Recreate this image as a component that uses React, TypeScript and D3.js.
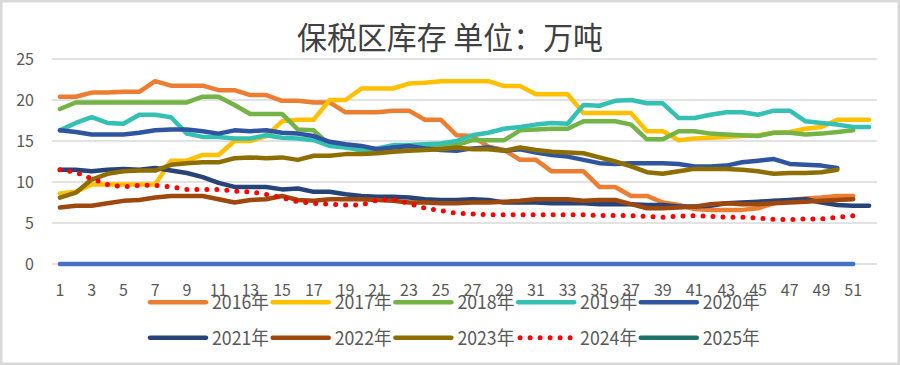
import React from "react";
import * as d3 from "d3";

const weeks = Array.from({ length: 52 }, (_, i) => String(i + 1));
const xTickLabels = ["1","3","5","7","9","11","13","15","17","19","21","23","25","27","29","31","33","35","37","39","41","43","45","47","49","51"];
const yTicks = [0, 5, 10, 15, 20, 25];

const d2016 = [20.4,20.4,20.9,20.9,21.0,21.0,22.3,21.75,21.75,21.75,21.2,21.2,20.6,20.6,19.9,19.9,19.7,19.7,18.5,18.5,18.5,18.7,18.7,17.6,17.6,15.7,15.6,14.3,13.9,12.7,12.7,11.3,11.3,11.3,9.4,9.4,8.3,8.3,7.5,7.2,6.7,6.6,6.6,6.6,6.8,7.4,7.8,8.0,8.1,8.3,8.3];
const d2017 = [8.6,8.8,9.7,9.7,9.7,9.7,9.7,12.6,12.6,13.3,13.3,15.0,15.0,15.6,17.4,17.6,17.6,20.0,20.0,21.4,21.4,21.4,22.0,22.1,22.3,22.3,22.3,22.3,21.7,21.7,20.7,20.7,20.7,18.4,18.4,18.4,18.4,16.2,16.2,15.1,15.3,15.4,15.5,15.6,15.7,16.0,16.1,16.5,16.7,17.6,17.6,17.6];
const d2018 = [18.9,19.7,19.7,19.7,19.7,19.7,19.7,19.7,19.7,20.4,20.4,19.4,18.3,18.3,18.3,16.4,16.3,14.5,14.3,13.9,13.9,14.1,14.2,14.3,14.4,14.5,15.1,15.1,15.1,16.3,16.4,16.5,16.5,17.4,17.4,17.4,17.0,15.2,15.2,16.2,16.2,15.9,15.8,15.7,15.6,16.0,16.0,15.8,15.9,16.1,16.3];
const d2019 = [16.3,17.2,17.9,17.2,17.1,18.2,18.2,17.9,15.9,15.5,15.5,15.3,15.3,15.7,15.4,15.3,15.1,14.4,14.2,13.9,14.1,14.5,14.5,14.6,14.7,15.0,15.7,16.0,16.5,16.7,17.0,17.2,17.1,19.4,19.3,19.9,20.0,19.6,19.6,17.8,17.8,18.2,18.5,18.5,18.2,18.7,18.7,17.4,17.2,17.0,16.7,16.7];
const d2020 = [16.3,16.1,15.8,15.8,15.8,16.0,16.3,16.4,16.4,16.2,15.9,16.3,16.2,16.3,16.0,15.9,15.6,14.9,14.6,14.4,14.0,14.2,14.4,14.1,13.9,13.8,14.1,14.2,13.8,14.0,13.6,13.3,13.1,12.7,12.3,12.2,12.3,12.3,12.3,12.2,11.9,11.9,12.0,12.4,12.6,12.8,12.2,12.1,12.0,11.7];
const d2021 = [11.5,11.5,11.3,11.5,11.6,11.5,11.7,11.4,11.1,10.6,9.9,9.4,9.4,9.4,9.1,9.2,8.8,8.8,8.5,8.3,8.2,8.2,8.1,7.9,7.8,7.8,7.9,7.8,7.5,7.5,7.5,7.4,7.4,7.4,7.3,7.3,7.3,7.2,7.2,7.0,7.0,7.1,7.4,7.5,7.6,7.7,7.8,7.9,7.5,7.2,7.1,7.1];
const d2022 = [6.9,7.1,7.1,7.4,7.7,7.8,8.1,8.3,8.3,8.3,7.9,7.5,7.8,7.9,8.3,7.8,7.7,7.9,7.9,7.9,7.8,7.7,7.5,7.5,7.4,7.4,7.5,7.5,7.6,7.7,7.9,7.9,7.9,7.7,7.8,7.8,7.3,6.8,6.8,6.9,7.0,7.3,7.4,7.3,7.3,7.4,7.5,7.6,7.7,7.8,7.9];
const d2023 = [8.1,8.7,10.3,11.0,11.3,11.4,11.4,12.1,12.3,12.4,12.4,12.9,13.0,12.9,13.0,12.7,13.2,13.2,13.4,13.4,13.5,13.7,13.8,13.9,14.0,14.2,14.0,14.0,13.8,14.2,13.9,13.7,13.6,13.5,13.0,12.5,11.9,11.2,11.0,11.3,11.6,11.6,11.6,11.5,11.3,11.0,11.1,11.1,11.2,11.5];
const d2024 = [11.5,11.2,10.4,9.7,9.4,9.6,9.6,9.4,9.1,9.1,9.1,8.9,8.8,8.5,8.1,7.6,7.4,7.3,7.2,7.2,7.8,7.9,7.4,6.8,6.5,6.2,6.1,6.0,6.0,6.0,6.0,6.0,6.0,6.0,5.9,5.9,5.9,5.8,5.7,5.85,5.9,5.8,5.7,5.7,5.6,5.45,5.4,5.5,5.5,5.7,5.9];
const d2025: number[] = [];
const hiddenZero = [0,0,0,0,0,0,0,0,0,0,0,0,0,0,0,0,0,0,0,0,0,0,0,0,0,0,0,0,0,0,0,0,0,0,0,0,0,0,0,0,0,0,0,0,0,0,0,0,0,0,0];

const seriesNames = ["2016年","2017年","2018年","2019年","2020年","2021年","2022年","2023年","2024年","2025年"];
const seriesData = [d2016, d2017, d2018, d2019, d2020, d2021, d2022, d2023, d2024, d2025];
const seriesColors = ["#ED7D31","#FFC000","#74B346","#35C0B4","#2F55A0","#264478","#9E480E","#8E6E00","#FF0000","#1E7168"];

const W = 900, H = 365;
const FONT = "'Noto Sans CJK SC', 'Liberation Sans', sans-serif";

export default function App() {
  const x = d3.scaleBand<string>().domain(weeks).range([52, 877]).padding(0);
  const y = d3.scaleLinear().domain([0, 25]).range([264, 59]);
  const cx = (i: number) => (x(weeks[i]) as number) + x.bandwidth() / 2;
  const line = d3.line<number>().x((_, i) => cx(i)).y((d) => y(d));

  const legendX0 = 150, legendStep = 122.7, rowY = [302.3, 337.7];

  return (
    <svg width={W} height={H} style={{ position: "absolute", left: 0, top: 0, fontFamily: FONT }}>
      <rect x={0} y={0} width={W} height={H} fill="#fff" />
      <rect x={1.25} y={1.25} width={W - 2.5} height={H - 2.5} fill="none" stroke="#D9D9D9" strokeWidth={2.5} />
      <text x={450} y={49} textAnchor="middle" fontSize={31} fill="#404040" textLength={306} lengthAdjust="spacingAndGlyphs">保税区库存 单位：万吨</text>
      {yTicks.map((t) => (
        <g key={t}>
          <line x1={52} x2={877} y1={y(t)} y2={y(t)} stroke="#D9D9D9" strokeWidth={1.5} />
          <text x={34} y={y(t) + 6} textAnchor="end" fontSize={16} fill="#595959">{t}</text>
        </g>
      ))}
      {xTickLabels.map((l) => (
        <text key={l} x={(x(l) as number) + x.bandwidth() / 2} y={295.5} textAnchor="middle" fontSize={16} fill="#595959">{l}</text>
      ))}
      <path d={line(hiddenZero) || ""} fill="none" stroke="#4472C4" strokeWidth={4.5} strokeLinecap="round" />
      {seriesData.map((s, k) =>
        s.length ? (
          <path key={k} d={line(s) || ""} fill="none" stroke={seriesColors[k]} strokeWidth={k === 8 ? 5 : 4.5}
            strokeLinejoin="round" strokeLinecap="round" strokeDasharray={k === 8 ? "0 10" : undefined} />
        ) : null
      )}
      {seriesNames.map((n, k) => {
        const row = k < 5 ? 0 : 1;
        const col = k % 5;
        const lx = legendX0 + col * legendStep;
        const ly = rowY[row];
        return (
          <g key={n}>
            <line x1={k === 8 ? lx + 2 : lx} x2={lx + 56} y1={ly} y2={ly} stroke={seriesColors[k]} strokeWidth={k === 8 ? 5 : 4.5}
              strokeLinecap="round" strokeDasharray={k === 8 ? "0 10" : undefined} />
            <text x={lx + 62} y={ly + 7} fontSize={19} fill="#595959" textLength={57} lengthAdjust="spacingAndGlyphs">{n}</text>
          </g>
        );
      })}
    </svg>
  );
}
